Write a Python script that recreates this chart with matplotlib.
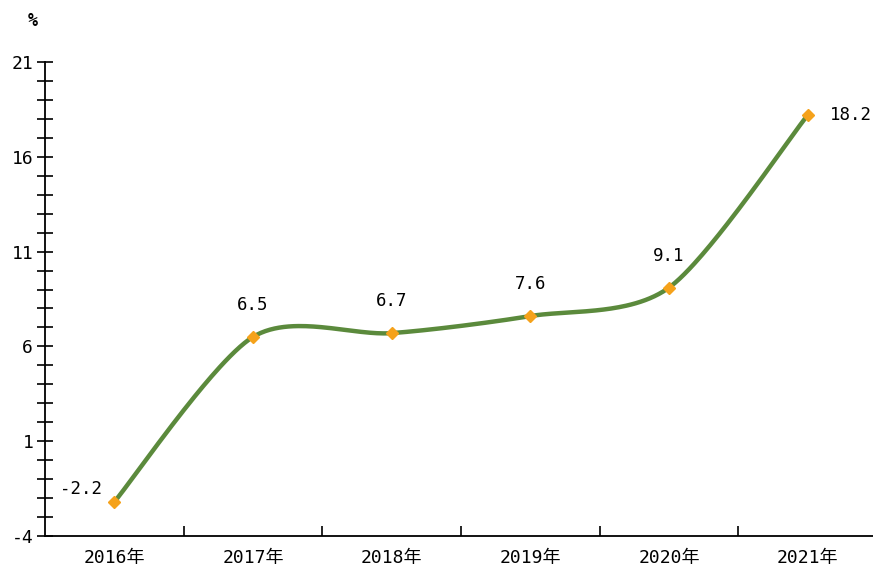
import matplotlib
matplotlib.use("Agg")
import matplotlib.pyplot as plt
import numpy as np

# ----------------------- data -----------------------
years = ["2016年", "2017年", "2018年", "2019年", "2020年", "2021年"]
values = [-2.2, 6.5, 6.7, 7.6, 9.1, 18.2]

plt.rcParams['font.family'] = ['DejaVu Sans Mono', 'Noto Sans CJK SC']
plt.rcParams['axes.unicode_minus'] = False


def smooth(xs, ys, n=60, t=0.42):
    # cardinal spline through the points (like a "smoothed line" in office charts)
    xs = np.asarray(xs, float)
    ys = np.asarray(ys, float)
    px = np.concatenate([[xs[0]], xs, [xs[-1]]])
    py = np.concatenate([[ys[0]], ys, [ys[-1]]])
    outx, outy = [], []
    for i in range(1, len(px) - 2):
        p0 = np.array([px[i], py[i]])
        p1 = np.array([px[i + 1], py[i + 1]])
        m0 = (np.array([px[i + 1], py[i + 1]]) - np.array([px[i - 1], py[i - 1]])) * t
        m1 = (np.array([px[i + 2], py[i + 2]]) - np.array([px[i], py[i]])) * t
        s = np.linspace(0, 1, n)
        h00 = 2 * s**3 - 3 * s**2 + 1
        h10 = s**3 - 2 * s**2 + s
        h01 = -2 * s**3 + 3 * s**2
        h11 = s**3 - s**2
        seg = (np.outer(h00, p0) + np.outer(h10, m0) +
               np.outer(h01, p1) + np.outer(h11, m1))
        outx.extend(seg[:, 0])
        outy.extend(seg[:, 1])
    return np.array(outx), np.array(outy)


fig = plt.figure(figsize=(8.73, 5.73), dpi=100)
ax = fig.add_axes([45 / 873, 37 / 573, 832 / 873, 474 / 573])

x = np.arange(len(years)) + 0.5
sx, sy = smooth(x, values)
ax.plot(sx, sy, color='#5B8A3C', lw=3.2, solid_capstyle='round', zorder=2)
ax.plot(x, values, ls='none', marker='D', ms=6.5, color='#F5A21B',
        mec='#F5A21B', zorder=3)

# value labels
for i, (xi, v) in enumerate(zip(x, values)):
    if i == 0:
        off = (-24, 9)
    elif i == len(values) - 1:
        off = (31, 0)
    else:
        off = (0, 23)
    ax.annotate(f"{v}", (xi, v), xytext=off, textcoords='offset points',
                ha='center', va='center', fontsize=12.5)

ax.set_xlim(0, len(years))
ax.set_ylim(-4, 21)

ax.set_yticks(np.arange(-4, 22, 5))
ax.set_yticks(np.arange(-4, 22, 1), minor=True)
ax.tick_params(axis='y', which='both', direction='inout', length=11, width=1.2,
               labelsize=13, pad=3)

ax.set_xticks(np.arange(1, len(years)))
ax.set_xticks(x, minor=True)
ax.set_xticklabels([])
ax.set_xticklabels(years, minor=True)
ax.tick_params(axis='x', which='major', direction='in', length=7, width=1.2)
ax.tick_params(axis='x', which='minor', length=0, labelsize=13, pad=9)

for side in ['top', 'right']:
    ax.spines[side].set_visible(False)
ax.spines['left'].set_linewidth(1.3)
ax.spines['bottom'].set_linewidth(1.3)

fig.text(33 / 873, 1 - 21 / 573, "%", ha='center', va='center', fontsize=12,
         fontweight='bold')

fig.savefig("out.png", dpi=100)
